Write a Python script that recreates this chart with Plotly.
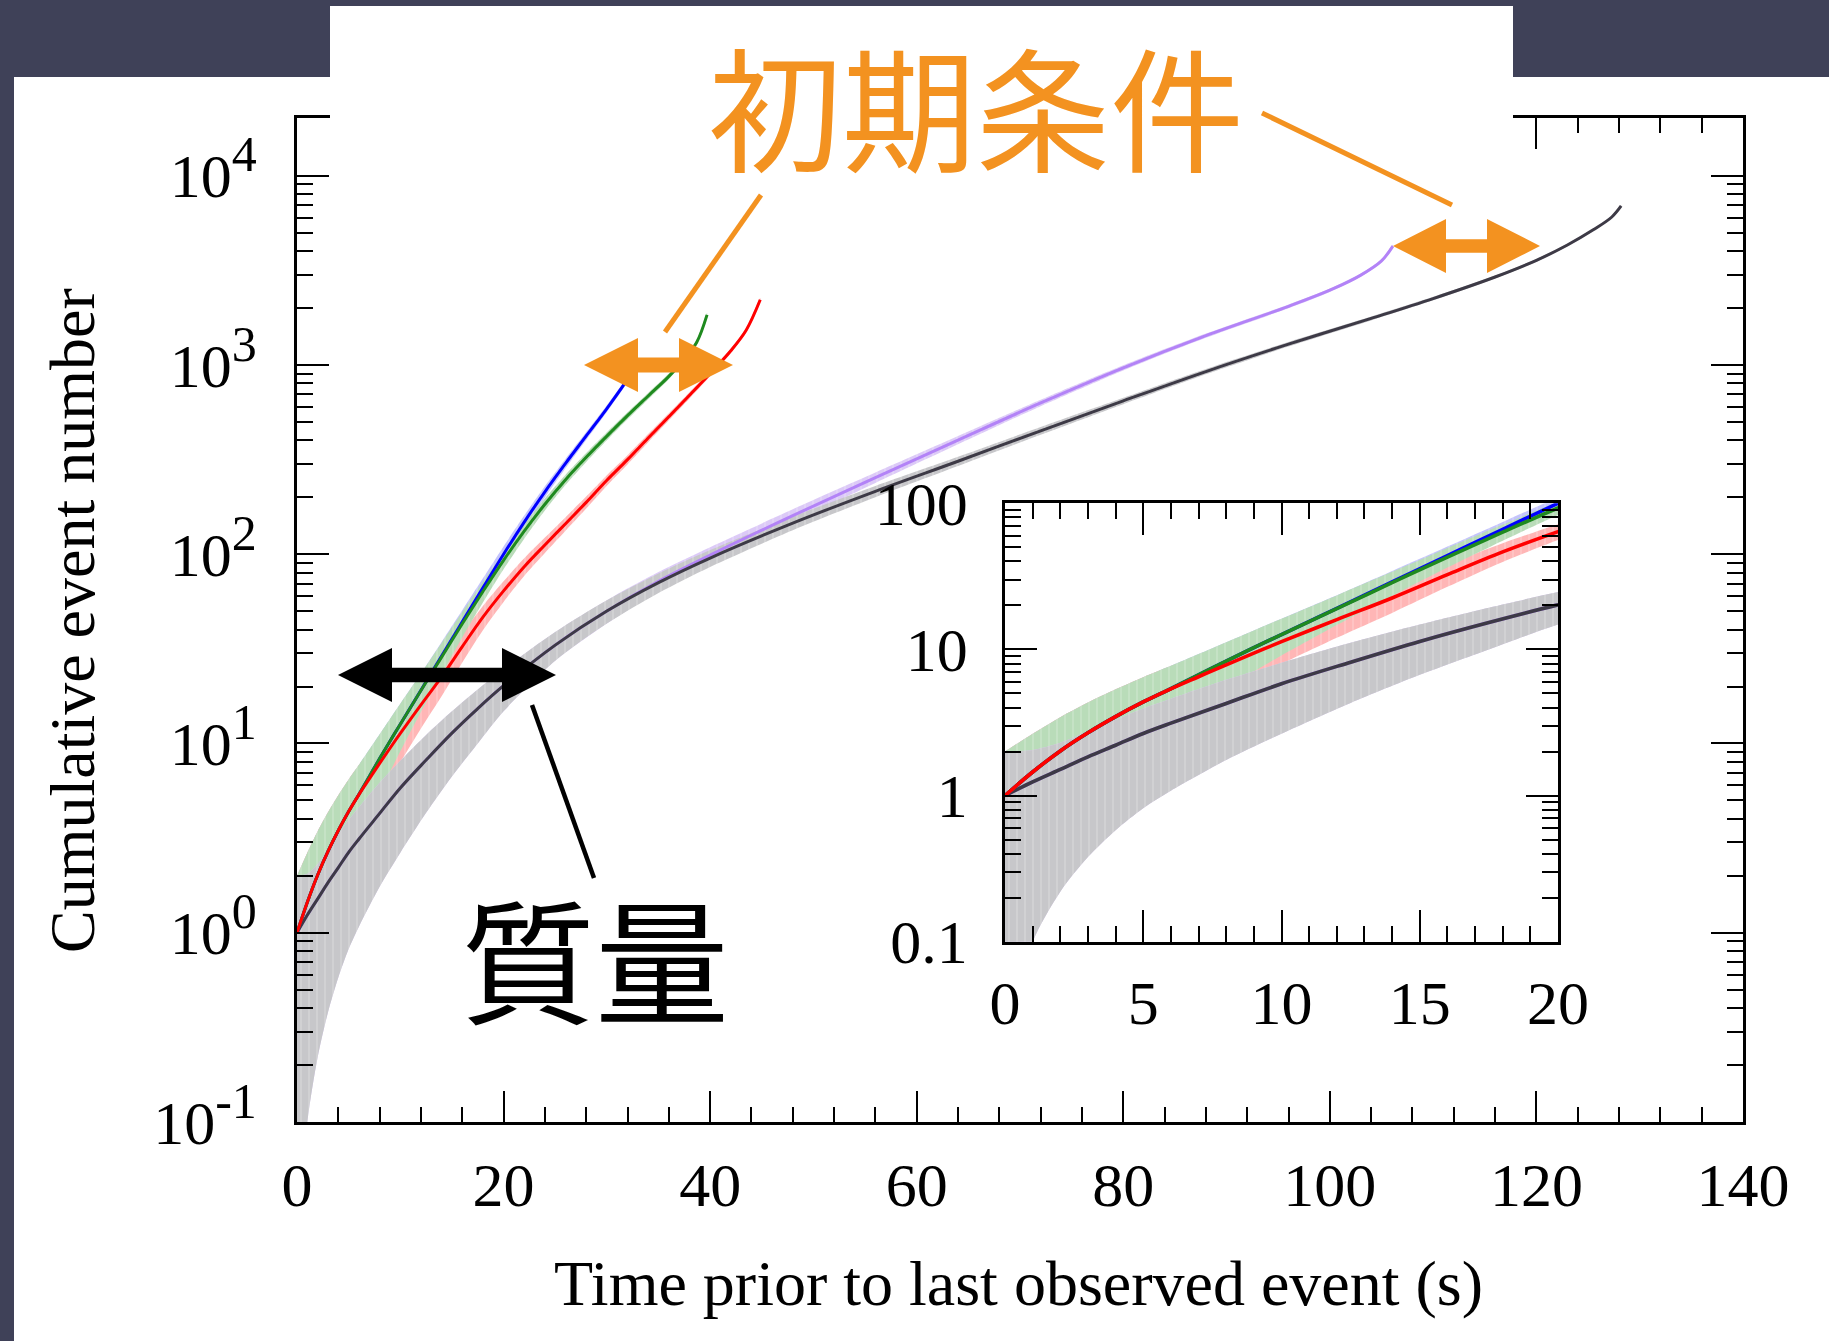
import plotly.graph_objects as go

# ---------------- data: cumulative event number vs time before last event ----------------
T_BLACK = [0, 1, 2, 3, 4, 5, 6, 8, 10, 12.5, 15, 17.5, 20, 25, 30, 35, 40, 48, 56, 64,
           72, 80, 88, 96, 104, 110, 116, 120, 123, 125.5, 127.3, 128.2]
N_BLACK = [1.0, 1.24, 1.51, 1.84, 2.21, 2.66, 3.13, 4.27, 5.82, 8.18, 11.35, 15.3, 20.2, 33.1, 50.1, 70.8, 95.5, 146, 215, 310,
           449, 646, 923, 1288, 1762, 2244, 2917, 3573, 4305, 5176, 6053, 6920]
HI_BLACK = [2.0, 2.05, 2.3, 2.75, 3.3, 3.95, 4.6, 6.2, 8.1, 11.1, 14.8, 19.3, 24.7, 38.85, 57.2, 79.2, 105.3, 158.1, 229.7, 327.6,
            470.2, 671.4, 953.4, 1323.9, 1804, 2291.4, 2971, 3632.8, 4370.6, 5247.9, 6130.8, 7003.2]
LO_BLACK = [0.02, 0.1, 0.22, 0.38, 0.58, 0.82, 1.08, 1.75, 2.65, 4.3, 6.7, 10.0, 14.8, 27.35, 43.0, 62.4, 85.7, 133.9, 200.3, 292.4,
            427.8, 620.6, 892.6, 1252.1, 1720, 2196.6, 2863, 3513.2, 4239.4, 5104.1, 5975.2, 6836.8]

T_RED = [0, 1, 2, 3, 4, 5, 6, 7, 8, 9, 10, 12, 14, 16, 18, 20, 22, 24, 26, 28, 30, 32, 34, 36, 38, 40, 42, 43.5, 44.85]
N_RED = [1.0, 1.45, 2.02, 2.69, 3.47, 4.37, 5.37, 6.5, 7.85, 9.44, 11.3, 16.0, 22.5, 32.5, 46.5, 64, 86, 112, 145, 188,
         246, 316, 411, 533, 692, 902, 1189, 1531, 2210]
HI_RED = [2.0, 2.65, 3.44, 4.33, 5.33, 6.46, 7.69, 9.05, 10.65, 12.51, 14.66, 20.0, 27.24, 38.2, 53.32, 72.0, 95.27, 122.58,
          157.04, 201.71, 261.68, 333.8, 431.3, 556.1, 718.3, 932.0, 1223.5, 1570.1, 2257.0]
LO_RED = [0.02, 0.25, 0.6, 1.05, 1.61, 2.28, 3.05, 3.95, 5.05, 6.37, 7.94, 12.0, 17.76, 26.8, 39.68, 56.0, 76.73, 101.42,
          132.96, 174.29, 230.32, 298.2, 390.7, 509.9, 665.7, 872.0, 1154.5, 1491.9, 2163.0]

T_GREEN = [0, 1, 2, 3, 4, 5, 6, 7, 8, 9, 10, 12, 14, 16, 18, 20, 22, 24, 26, 28, 30, 32, 34, 36, 37.5, 38.7, 39.7]
N_GREEN = [1.0, 1.45, 2.02, 2.69, 3.47, 4.37, 5.4, 6.7, 8.32, 10.28, 12.65, 19.05, 28.6, 42.9, 63.5, 92.9, 132.4, 183.7,
           247.7, 325.1, 420.7, 539.5, 685.5, 871, 1072, 1318, 1841]
HI_GREEN = [2.0, 2.65, 3.44, 4.33, 5.33, 6.46, 7.72, 9.29, 11.2, 13.49, 16.21, 23.42, 33.95, 49.45, 71.47, 102.5, 143.9,
            197.3, 263.4, 343.1, 441.2, 562.7, 711.7, 900.5, 1104.7, 1354.3, 1883.9]
LO_GREEN = [0.02, 0.25, 0.6, 1.05, 1.61, 2.28, 3.08, 4.11, 5.44, 7.07, 9.09, 14.69, 23.25, 36.35, 55.53, 83.26, 120.9,
            170.2, 232.0, 307.1, 400.2, 516.3, 659.3, 841.5, 1039.3, 1281.7, 1798.1]

T_BLUE = [0, 1, 2, 3, 4, 5, 6, 7, 8, 9, 10, 12, 14, 16, 18, 20, 22, 24, 26, 28, 30, 32, 32.9]
N_BLUE = [1.0, 1.45, 2.02, 2.69, 3.47, 4.37, 5.4, 6.7, 8.32, 10.28, 12.65, 19.1, 29.0, 43.9, 66.4, 100, 147.9, 213.8,
          302, 421.7, 588.8, 841.4, 1030]
HI_BLUE = [2.0, 2.65, 3.44, 4.33, 5.33, 6.46, 7.72, 9.29, 11.2, 13.49, 16.21, 23.47, 34.39, 50.53, 74.55, 110, 160.1,
           228.4, 319.4, 442.2, 613.1, 870.4, 1062.1]
LO_BLUE = [0.02, 0.25, 0.6, 1.05, 1.61, 2.28, 3.08, 4.11, 5.44, 7.07, 9.09, 14.73, 23.62, 37.27, 58.25, 90, 135.7,
           199.2, 284.6, 401.2, 564.5, 812.4, 997.9]

T_PURPLE = [0, 1, 2, 3, 4, 5, 6, 8, 10, 12.5, 15, 17.5, 20, 25, 30, 35, 40, 48, 56, 64,
            72, 80, 88, 96, 100, 103, 105, 106.1]
N_PURPLE = [1.0, 1.24, 1.51, 1.84, 2.21, 2.66, 3.13, 4.27, 5.82, 8.18, 11.35, 15.3, 20.2, 33.1, 50.1, 72, 99, 160, 254, 401,
            630, 966, 1429, 2042, 2483, 2985, 3548, 4246]
HI_PURPLE = [2.0, 2.05, 2.3, 2.75, 3.3, 3.95, 4.6, 6.2, 8.1, 11.1, 14.8, 19.3, 24.7, 38.85, 57.2, 80.5, 109, 172.65, 269.94, 421.02,
             655.1, 997.08, 1466.8, 2087.19, 2532.83, 3039.64, 3607.57, 4311.16]
LO_PURPLE = [0.02, 0.1, 0.22, 0.38, 0.58, 0.82, 1.08, 1.75, 2.65, 4.3, 6.7, 10.0, 14.8, 27.35, 43.0, 63.5, 89, 147.35, 238.06, 380.98,
             604.9, 934.92, 1391.2, 1996.81, 2433.17, 2930.36, 3488.43, 4180.84]

X_TICKS = [0, 20, 40, 60, 80, 100, 120, 140]
Y_TICKS = [0.1, 1, 10, 100, 1000, 10000]
Y_EXPONENTS = ["-1", "0", "1", "2", "3", "4"]
INSET_X_TICKS = [0, 5, 10, 15, 20]
INSET_Y_TICKS = [0.1, 1, 10, 100]
INSET_Y_TEXT = ["0.1", "1", "10", "100"]

# ---------------- page geometry (pixels) ----------------
W, H = 1829, 1341
L, R, T, B = 297, 1743, 118, 1122          # main plotting box


def px(x):
    return (x - L) / (R - L)


def py(y):
    return (B - y) / (B - T)


SERIF = "Liberation Serif"
ORANGE = "#f39220"
FRAME = "#3f4158"

series = [
    # name, t, mid, lo, hi, line colour, band colour
    ("blue", T_BLUE, N_BLUE, LO_BLUE, HI_BLUE, "#0000ff", "#c4c4fb"),
    ("red", T_RED, N_RED, LO_RED, HI_RED, "#ff0000", "#ffb6b6"),
    ("green", T_GREEN, N_GREEN, LO_GREEN, HI_GREEN, "#1f8a1f", "#b9dcb9"),
    ("purple", T_PURPLE, N_PURPLE, LO_PURPLE, HI_PURPLE, "#b383f7", "#dccaf7"),
    ("black", T_BLACK, N_BLACK, LO_BLACK, HI_BLACK, "#3d3a46", "#c7c7ca"),
]
line_order = ["purple", "black", "blue", "green", "red"]
lookup = {s[0]: s for s in series}

fig = go.Figure()

for xa, ya, lw in (("x", "y", 3.0), ("x2", "y2", 3.6)):
    # uncertainty bands
    for name, t, mid, lo, hi, lc, bc in series:
        fig.add_trace(go.Scatter(
            x=list(t) + list(t)[::-1], y=list(hi) + list(lo)[::-1],
            mode="lines", fill="toself", fillcolor=bc,
            fillpattern=dict(shape="|", bgcolor=bc, fgcolor="rgba(255,255,255,0.35)", size=8, solidity=0.25),
            line=dict(width=0, color=bc, shape="spline", smoothing=0.8),
            hoverinfo="skip", xaxis=xa, yaxis=ya))
    # central curves
    for name in line_order:
        _, t, mid, lo, hi, lc, bc = lookup[name]
        fig.add_trace(go.Scatter(
            x=t, y=mid, mode="lines",
            line=dict(color=lc, width=lw, shape="spline", smoothing=1.0),
            hoverinfo="skip", xaxis=xa, yaxis=ya))

common = dict(showline=True, linecolor="black", linewidth=2.5, mirror="allticks",
              ticks="inside", tickcolor="black", tickwidth=2.2,
              showgrid=False, zeroline=False,
              tickfont=dict(family=SERIF, size=62, color="black"))

main_minor_y = [m * 10 ** e for e in range(-1, 5) for m in range(2, 10) if m * 10 ** e < 20000]
inset_minor_y = [m * 10 ** e for e in range(-1, 2) for m in range(2, 10)]
y_tick_text = [f'10<sup><span style="font-size:50px">{e}</span></sup>' for e in Y_EXPONENTS]

fig.update_layout(
    width=W, height=H,
    margin=dict(l=L, r=W - R, t=T, b=H - B),
    paper_bgcolor=FRAME, plot_bgcolor="white",
    showlegend=False,
    xaxis=dict(common, domain=[0, 1], anchor="y", range=[0, 140],
               tickmode="array", tickvals=X_TICKS, ticklen=31, ticklabelstandoff=7,
               minor=dict(ticks="inside", dtick=4, tick0=0, ticklen=15, tickcolor="black", tickwidth=2, showgrid=False)),
    yaxis=dict(common, domain=[0, 1], anchor="x", type="log", range=[-1, 4.305],
               tickmode="array", tickvals=Y_TICKS, ticktext=y_tick_text, ticklen=32, ticklabelstandoff=25,
               minor=dict(ticks="inside", tickmode="array", tickvals=main_minor_y, ticklen=16,
                          tickcolor="black", tickwidth=2, showgrid=False)),
    xaxis2=dict(common, domain=[px(1005), px(1558)], anchor="y2", range=[0, 20],
                tickmode="array", tickvals=INSET_X_TICKS, ticklen=32, ticklabelstandoff=5,
                minor=dict(ticks="inside", dtick=1, tick0=0, ticklen=16, tickcolor="black", tickwidth=2, showgrid=False)),
    yaxis2=dict(common, domain=[py(941.7), py(503.3)], anchor="x2", type="log", range=[-1, 2],
                tickmode="array", tickvals=INSET_Y_TICKS, ticktext=INSET_Y_TEXT, ticklen=32, ticklabelstandoff=22,
                minor=dict(ticks="inside", tickmode="array", tickvals=inset_minor_y, ticklen=16,
                           tickcolor="black", tickwidth=2, showgrid=False)),
)


def rect(x0, y0, x1, y1, layer):
    return dict(type="rect", xref="paper", yref="paper", x0=px(x0), x1=px(x1), y0=py(y1), y1=py(y0),
                fillcolor="white", line=dict(width=0), layer=layer)


def double_arrow(x0, x1, yc, head_len, head_half, shaft_half, color):
    pts = [(x0, yc), (x0 + head_len, yc - head_half), (x0 + head_len, yc - shaft_half),
           (x1 - head_len, yc - shaft_half), (x1 - head_len, yc - head_half), (x1, yc),
           (x1 - head_len, yc + head_half), (x1 - head_len, yc + shaft_half),
           (x0 + head_len, yc + shaft_half), (x0 + head_len, yc + head_half)]
    path = "M " + " L ".join(f"{px(a):.5f},{py(b):.5f}" for a, b in pts) + " Z"
    return dict(type="path", xref="paper", yref="paper", path=path,
                fillcolor=color, line=dict(width=0), layer="above")


def seg(x0, y0, x1, y1, color, width):
    return dict(type="line", xref="paper", yref="paper", x0=px(x0), y0=py(y0), x1=px(x1), y1=py(y1),
                line=dict(color=color, width=width), layer="above")


shapes = [
    rect(14, 77, W, H, "below"),          # white page inside the frame
    rect(330, 6, 1513, 160, "above"),     # white header panel
    double_arrow(584, 733, 365, 54, 27, 7.5, ORANGE),
    double_arrow(1393, 1540, 246, 53, 27, 6.8, ORANGE),
    double_arrow(338, 556, 675, 54, 27, 7.2, "black"),
    seg(665, 332, 761, 195, ORANGE, 5),
    seg(1262, 113, 1452, 205, ORANGE, 5),
    seg(532, 705, 594, 878, "black", 4.5),
]
fig.update_layout(shapes=shapes)

annotations = [
    dict(text="初期条件", x=px(976), y=py(104), font=dict(family="Noto Sans CJK JP", size=134, color=ORANGE)),
    dict(text="質量", x=px(595), y=py(956), font=dict(family="Noto Sans CJK JP", size=134, color="black")),
    dict(text="Time prior to last observed event (s)", x=px(1018), y=py(1283),
         font=dict(family=SERIF, size=64, color="black")),
    dict(text="Cumulative event number", x=px(72), y=py(621), textangle=-90,
         font=dict(family=SERIF, size=64, color="black")),
]
for a in annotations:
    fig.add_annotation(xref="paper", yref="paper", showarrow=False, xanchor="center", yanchor="middle", **a)

fig.write_html("out.html")
